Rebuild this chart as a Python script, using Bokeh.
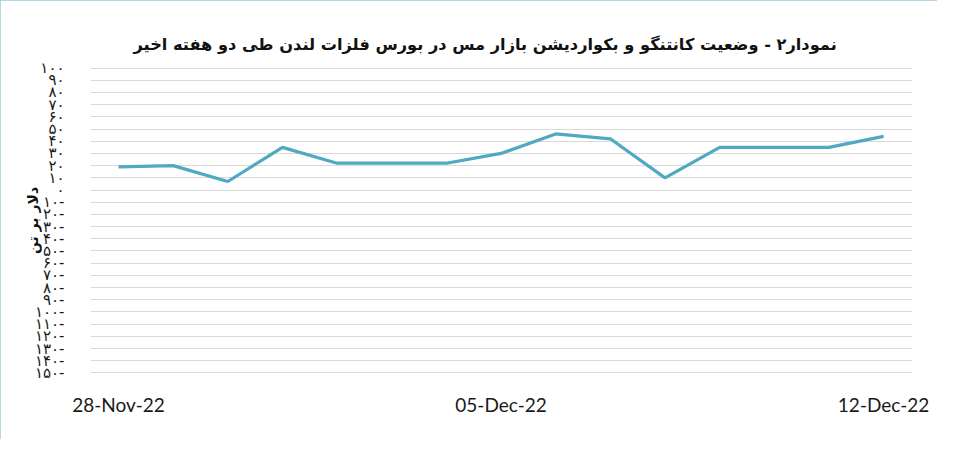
import pandas as pd
from bokeh.plotting import figure
from bokeh.models import Range1d, FixedTicker, DatetimeTickFormatter
from bokeh.embed import file_html
from bokeh.resources import INLINE

# ---- data ----
dates = ["2022-11-28", "2022-11-29", "2022-11-30", "2022-12-01", "2022-12-02",
         "2022-12-03", "2022-12-04", "2022-12-05", "2022-12-06", "2022-12-07",
         "2022-12-08", "2022-12-09", "2022-12-10", "2022-12-11", "2022-12-12"]
spread = [19, 20, 7, 35, 22, 22, 22, 30, 46, 42, 10, 35, 35, 35, 44]

x_tick_dates = ["2022-11-28", "2022-12-05", "2022-12-12"]
y_ticks = [100, 90, 80, 70, 60, 50, 40, 30, 20, 10, 0,
           -10, -20, -30, -40, -50, -60, -70, -80, -90, -100,
           -110, -120, -130, -140, -150]
y_tick_labels = ["۱۰۰", "۹۰", "۸۰", "۷۰", "۶۰", "۵۰", "۴۰", "۳۰", "۲۰", "۱۰", "۰",
                 "\u200f-۱۰", "\u200f-۲۰", "\u200f-۳۰", "\u200f-۴۰", "\u200f-۵۰",
                 "\u200f-۶۰", "\u200f-۷۰", "\u200f-۸۰", "\u200f-۹۰", "\u200f-۱۰۰",
                 "\u200f-۱۱۰", "\u200f-۱۲۰", "\u200f-۱۳۰", "\u200f-۱۴۰", "\u200f-۱۵۰"]
title_text = "نمودار۲ - وضعیت کانتنگو و بکواردیشن بازار مس در بورس فلزات لندن طی دو هفته اخیر"
y_label_text = "دلار بر تن"

# ---- figure ----
x = pd.to_datetime(dates)
x_start = x[0] - pd.Timedelta(hours=12.3)
x_end = x[-1] + pd.Timedelta(hours=12.7)

p = figure(width=937, height=439, output_backend="svg", toolbar_location=None,
           x_axis_type="datetime",
           x_range=Range1d(x_start, x_end), y_range=Range1d(-150.5, 100.5),
           min_border_left=90, min_border_right=25, min_border_top=67, min_border_bottom=66)
p.outline_line_color = None
p.background_fill_color = "white"
p.border_fill_color = "white"
p.styles = {"outline": "3px solid #9ecbd9", "outline-offset": "-3px"}

p.title.text = title_text
p.title.align = "left"
p.title.offset = 43
p.title.text_font = "DejaVu Sans"
p.title.text_font_style = "bold"
p.title.text_font_size = "16.2px"
p.title.text_color = "#111111"
p.title.standoff = 28

p.line(x, spread, line_color="#4fa9c2", line_width=3.2)

# x axis
tick_ms = [pd.Timestamp(d).value // 10**6 for d in x_tick_dates]
p.xaxis.ticker = FixedTicker(ticks=tick_ms)
p.xaxis.formatter = DatetimeTickFormatter(days="%d-%b-%y", months="%d-%b-%y", hours="%d-%b-%y")
p.xaxis.axis_line_color = None
p.xaxis.major_tick_line_color = None
p.xaxis.minor_tick_line_color = None
p.xaxis.major_label_standoff = 13
p.xaxis.major_label_text_font = "Lato"
p.xaxis.major_label_text_font_size = "19px"
p.xaxis.major_label_text_color = "#1a1a1a"
p.xgrid.grid_line_color = None

# y axis
p.yaxis.ticker = FixedTicker(ticks=y_ticks)
p.yaxis.major_label_overrides = {v: s for v, s in zip(y_ticks, y_tick_labels)}
p.yaxis.axis_line_color = None
p.yaxis.major_tick_line_color = None
p.yaxis.minor_tick_line_color = None
p.yaxis.major_label_standoff = 20
p.yaxis.major_label_text_font = "DejaVu Sans"
p.yaxis.major_label_text_font_size = "15px"
p.yaxis.major_label_text_color = "#1a1a1a"
p.yaxis.axis_label = y_label_text
p.yaxis.axis_label_standoff = -9
p.yaxis.axis_label_text_font = "DejaVu Sans"
p.yaxis.axis_label_text_font_style = "bold"
p.yaxis.axis_label_text_font_size = "14px"
p.yaxis.axis_label_text_color = "#111111"
p.ygrid.ticker = FixedTicker(ticks=y_ticks)
p.ygrid.grid_line_color = "#d9d9d9"
p.ygrid.grid_line_width = 1

open("out.html", "w").write(file_html(p, INLINE))
